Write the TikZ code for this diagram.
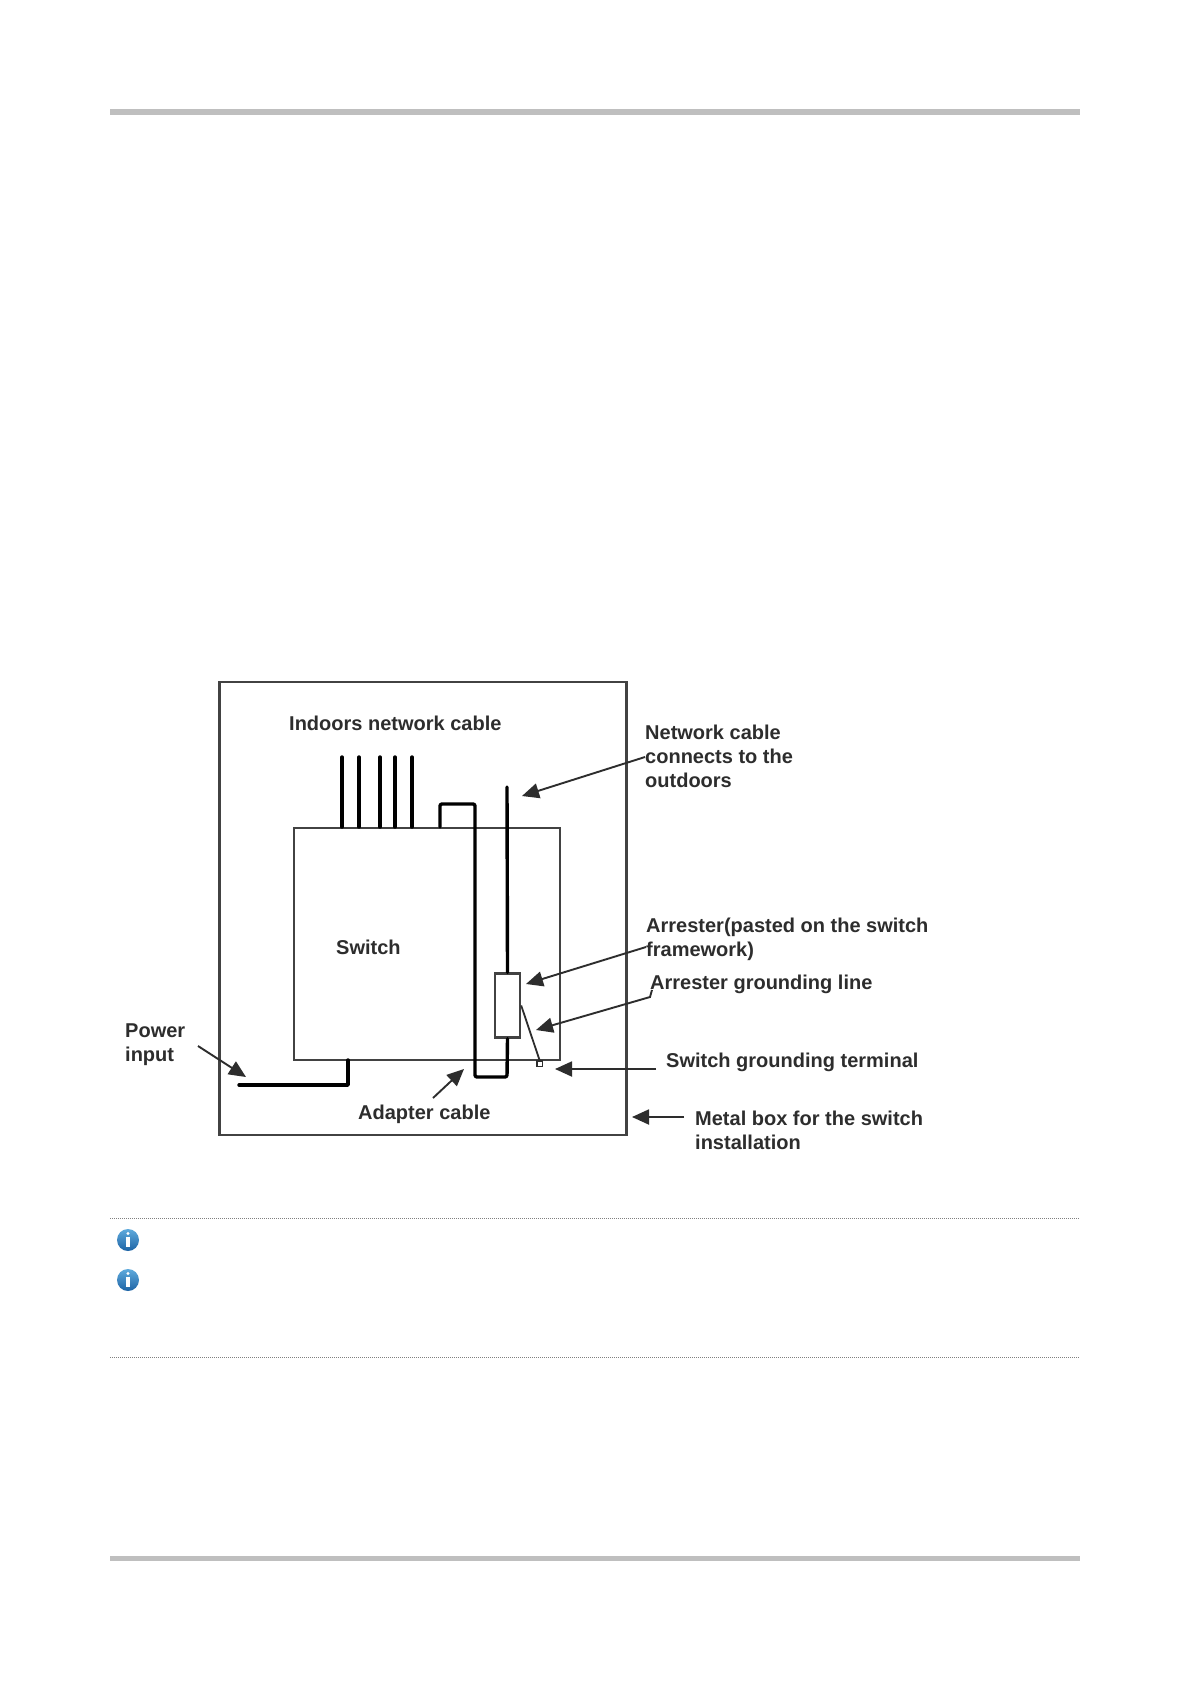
\documentclass[tikz,border=0pt]{standalone}
\usepackage{fontspec}
\setmainfont{Liberation Sans}
\usetikzlibrary{arrows.meta}
\definecolor{ink}{RGB}{45,45,45}
\definecolor{barg}{RGB}{191,191,191}
\definecolor{icontop}{RGB}{95,170,220}
\definecolor{iconbot}{RGB}{30,100,165}
\tikzset{
 lbl/.style={inner sep=0pt,anchor=north west,align=left,text=ink,font=\fontsize{20}{24}\selectfont\bfseries},
 frame/.style={draw=ink!90!white,line width=2.8pt},
 thin frame/.style={draw=ink!90!white,line width=2.4pt},
 cable/.style={draw=black,line width=3.4pt,line cap=round,line join=round},
 pointer/.style={draw=ink,line width=1.9pt,-{Triangle[length=17pt,width=15pt]}},
 bar/.style={fill=barg,draw=none},
 dotline/.style={draw=gray,line width=0.8pt,dash pattern=on 1pt off 1pt},
 infoicon/.style={circle,minimum size=22pt,inner sep=0pt,top color=icontop,bottom color=iconbot}
}
\begin{document}
\begin{tikzpicture}[x=1pt,y=-1pt]
\useasboundingbox (0,0) rectangle (1191,1684);
\fill[white] (0,0) rectangle (1191,1684);
% page furniture
\fill[bar] (110,108.5) rectangle (1080,114.5);
\fill[bar] (110,1555.5) rectangle (1080,1561);
\draw[dotline] (110,1218) -- (1080,1218);
\draw[dotline] (110,1357) -- (1080,1357);
\foreach \yy/\nm in {1240/ia,1280/ib}{
 \node[infoicon] (\nm) at (128,\yy) {};
 \fill[white] (128,\yy-6.5) circle (1.7);
 \fill[white] (126.4,\yy-3) rectangle (129.6,\yy+7);
}
% boxes
\node[frame,minimum width=407pt,minimum height=453pt,inner sep=0pt,anchor=north west] (box) at (218,680.5) {};
\node[thin frame,minimum width=266pt,minimum height=232pt,inner sep=0pt,anchor=north west] (sw) at (293,827) {};
% cables
\foreach \xx/\nm in {342/ca,359/cb,380/cc,395/cd,412/ce}{
 \coordinate (\nm t) at (\xx,757);
 \coordinate (\nm b) at (\xx,827);
 \draw[cable] (\nm t) -- (\nm b);
}
\coordinate (adA) at (440,827);
\coordinate (adB) at (440,804);
\coordinate (adC) at (475,804);
\coordinate (adD) at (475,1077);
\coordinate (adE) at (507,1077);
\coordinate (netT) at (507,787);
\node[thin frame,fill=white,minimum width=25pt,minimum height=64pt,inner sep=0pt] (arr) at (507.5,1005.5) {};
\draw[cable,rounded corners=2pt] (adA) -- (adB) -- (adC) -- (adD) -- (adE) -- (arr.south);
\draw[cable] (netT) -- (arr.north);
\coordinate (pwA) at (239,1085);
\coordinate (pwB) at (348,1085);
\coordinate (pwC) at (348,1060);
\draw[cable] (pwA) -- (pwB) -- (pwC);
\node[draw=ink,line width=1.5pt,minimum size=5.5pt,inner sep=0pt,fill=white] (gnd) at (539.5,1063.5) {};
\draw[ink,line width=1.8pt] (arr.east) -- (gnd.north);
% labels
\node[lbl] (tIndoor) at (289,715.5) {Indoors network cable};
\node[lbl] (tSwitch) at (336,940) {Switch};
\node[lbl] (tPower) at (125,1023.5) {Power\\input};
\node[lbl] (tAdapter) at (358,1105) {Adapter cable};
\node[lbl] (tNet) at (645,724.5) {Network cable\\connects to the\\outdoors};
\node[lbl] (tArr) at (646,917.5) {Arrester(pasted on the switch\\framework)};
\node[lbl] (tGl) at (650,974.5) {Arrester grounding line};
\node[lbl] (tGt) at (666,1052.5) {Switch grounding terminal};
\node[lbl] (tMb) at (695,1111) {Metal box for the switch\\installation};
% pointers
\coordinate (pwS) at (198,1046);
\coordinate (pwE) at (246,1077);
\coordinate (adS) at (433,1098);
\coordinate (adP) at (464,1069);
\coordinate (netS) at (645,757);
\coordinate (netE) at (522,796);
\coordinate (arS) at (646,947);
\coordinate (arE) at (526,984);
\coordinate (glK) at (650,997);
\coordinate (glS) at (652,990);
\coordinate (glE) at (536,1030);
\coordinate (gtS) at (656,1069);
\coordinate (gtE) at (555,1069);
\coordinate (mbS) at (684,1117);
\coordinate (mbE) at (632,1117);
\draw[pointer] (pwS) -- (pwE);
\draw[pointer] (adS) -- (adP);
\draw[pointer] (netS) -- (netE);
\draw[pointer] (arS) -- (arE);
\draw[pointer] (glS) -- (glK) -- (glE);
\draw[pointer] (gtS) -- (gtE);
\draw[pointer] (mbS) -- (mbE);
\end{tikzpicture}
\end{document}
